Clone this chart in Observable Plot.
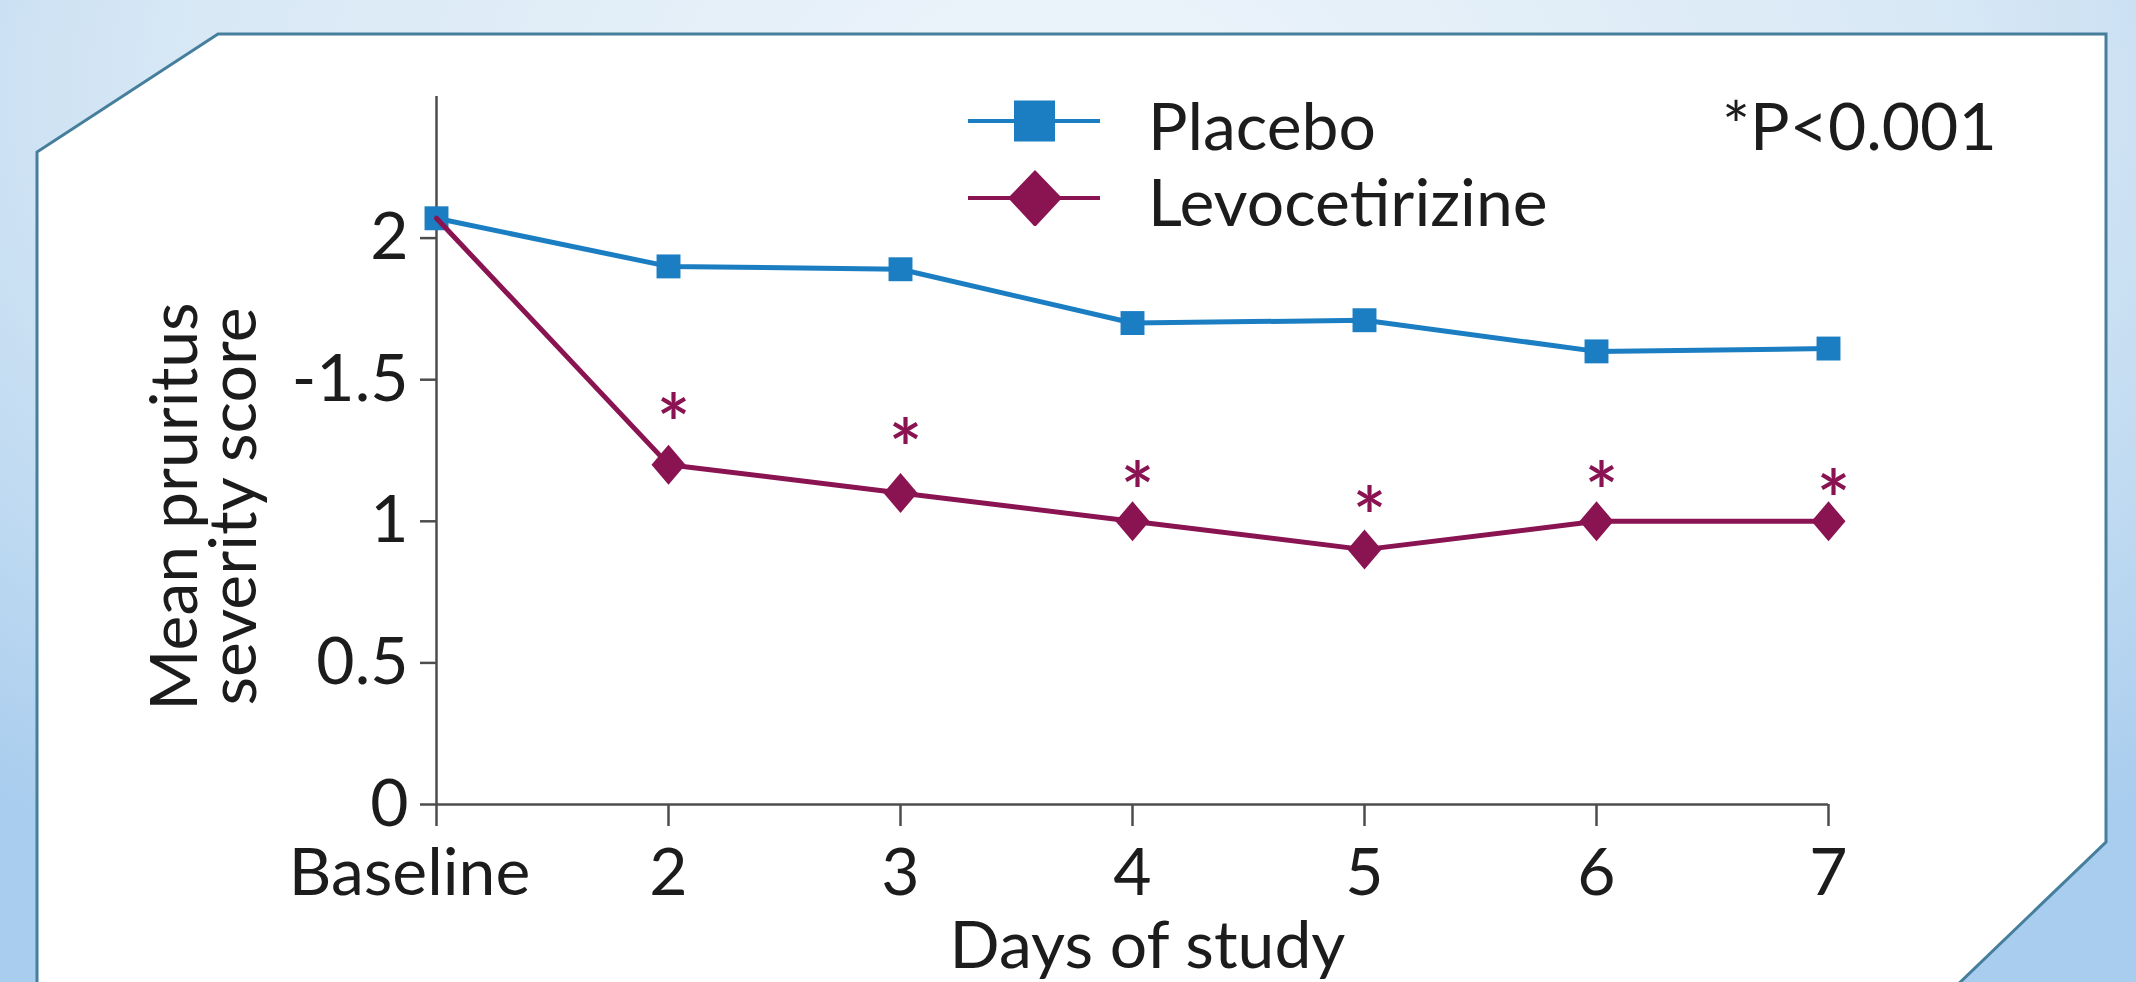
<!DOCTYPE html>
<html>
<head>
<meta charset="utf-8">
<script src="https://cdn.jsdelivr.net/npm/d3@7"></script>
<script src="https://cdn.jsdelivr.net/npm/@observablehq/plot@0.6"></script>
<style>
  html, body { margin: 0; padding: 0; }
  body {
    width: 2136px; height: 982px; overflow: hidden; position: relative;
    background: radial-gradient(ellipse 75% 95% at 50% 10%, #eef5fb 0%, #d8e8f5 55%, #a9cdee 100%);
    font-family: Lato, "Open Sans", sans-serif;
  }
  #panel { position: absolute; left: 0; top: 0; }
  #chart { position: absolute; left: 0; top: 0; }
  #chart svg { background: transparent; }
  .leg { position: absolute; font-family: Lato, sans-serif; font-size: 66px; color: #1c1c1c; line-height: 1; white-space: nowrap; }
  .sw { position: absolute; }
</style>
</head>
<body>
<svg id="panel" width="2136" height="982">
  <polygon points="218,34 2106,34 2106,842 1950,992 37,992 37,152" fill="#ffffff" stroke="#467f9c" stroke-width="3"/>
</svg>
<div id="chart"></div>
<div id="legend"></div>
<script>
// ---- data ----
const days = ["Baseline", "2", "3", "4", "5", "6", "7"];
const placebo = [2.07, 1.90, 1.89, 1.70, 1.71, 1.60, 1.61];
const levocetirizine = [2.07, 1.20, 1.10, 1.00, 0.90, 1.00, 1.00];
const starDays = ["2", "3", "4", "5", "6", "7"];
const starValues = [1.40, 1.31, 1.16, 1.07, 1.16, 1.13];
const yTicks = [0, 0.5, 1, 1.5, 2];
const yTickLabels = ["0", "0.5", "1", "-1.5", "2"];
const seriesNames = ["Placebo", "Levocetirizine"];
const note = "*P<0.001";
const xLabel = "Days of study";
const yLabel = "Mean pruritus\nseverity score";

const blue = "#1b7ec2";
const maroon = "#8a1352";
const axisColor = "#4d4d4d";

const placeboData = days.map((d, i) => ({day: d, value: placebo[i]}));
const levoData = days.map((d, i) => ({day: d, value: levocetirizine[i]}));
const starData = starDays.map((d, i) => ({day: d, value: starValues[i]}));

const diamond = {
  draw(ctx, size) {
    const r = Math.sqrt(size / Math.PI);
    const h = r, w = r * 0.85;
    ctx.moveTo(0, -h); ctx.lineTo(w, 0); ctx.lineTo(0, h); ctx.lineTo(-w, 0); ctx.closePath();
  }
};

const chart = Plot.plot({
  width: 2136,
  height: 982,
  marginLeft: 436,
  marginRight: 308,
  marginTop: 96,
  marginBottom: 178,
  style: {fontFamily: "Lato, sans-serif", fontSize: "66px", color: "#1c1c1c", background: "transparent"},
  x: {type: "point", domain: days, padding: 0},
  y: {domain: [0, 2.5]},
  marks: [
    Plot.axisY({ticks: yTicks, tickFormat: v => yTickLabels[yTicks.indexOf(v)], tickSize: 16, tickPadding: 12, stroke: axisColor, strokeWidth: 2.5, label: null}),
    Plot.axisX({ticks: days, tickFormat: d => d === days[0] ? "" : d, tickSize: 22, tickPadding: 22, stroke: axisColor, strokeWidth: 2.5, label: null}),
    Plot.axisX({ticks: days.slice(0, 1), tickSize: 0, tickPadding: 44, dx: -27, label: null}),
    Plot.ruleX([days[0]], {stroke: axisColor, strokeWidth: 2.5}),
    Plot.ruleY([0], {stroke: axisColor, strokeWidth: 2.5}),
    Plot.lineY(placeboData, {x: "day", y: "value", stroke: blue, strokeWidth: 5}),
    Plot.dot(placeboData, {x: "day", y: "value", symbol: "square", r: 13.5, fill: blue, stroke: "none"}),
    Plot.lineY(levoData, {x: "day", y: "value", stroke: maroon, strokeWidth: 5}),
    Plot.dot(levoData, {x: "day", y: "value", filter: d => d.day !== days[0], symbol: diamond, r: 20, fill: maroon, stroke: "none"}),
    Plot.text(starData, {x: "day", y: "value", text: () => "*", fill: maroon, fontSize: 80, fontWeight: 600, dx: 5, dy: 19}),
    Plot.text([yLabel], {frameAnchor: "left", text: d => d, rotate: -90, textAnchor: "middle", lineAnchor: "middle", lineHeight: 0.9, dx: -229, dy: 56, fill: "#1c1c1c"}),
    Plot.text([xLabel], {frameAnchor: "bottom", text: d => d, textAnchor: "middle", lineAnchor: "middle", dx: 15, dy: 142, fill: "#1c1c1c"})
  ]
});
document.getElementById("chart").appendChild(chart);

// ---- legend (HTML overlay) ----
const legend = document.getElementById("legend");
legend.innerHTML = `
  <svg class="sw" style="left:964px;top:96px" width="140" height="130">
    <line x1="4" y1="25" x2="136" y2="25" stroke="${blue}" stroke-width="4"/>
    <rect x="50" y="4.5" width="41" height="41" fill="${blue}"/>
    <line x1="4" y1="102" x2="136" y2="102" stroke="${maroon}" stroke-width="4"/>
    <polygon points="71,74 98,102 71,131 44,102" fill="${maroon}"/>
  </svg>
  <div class="leg" style="left:1148px;top:92px">${seriesNames[0]}</div>
  <div class="leg" style="left:1148px;top:168px">${seriesNames[1]}</div>
  <div class="leg" style="left:1722px;top:92px">${note}</div>
`;
</script>
</body>
</html>
